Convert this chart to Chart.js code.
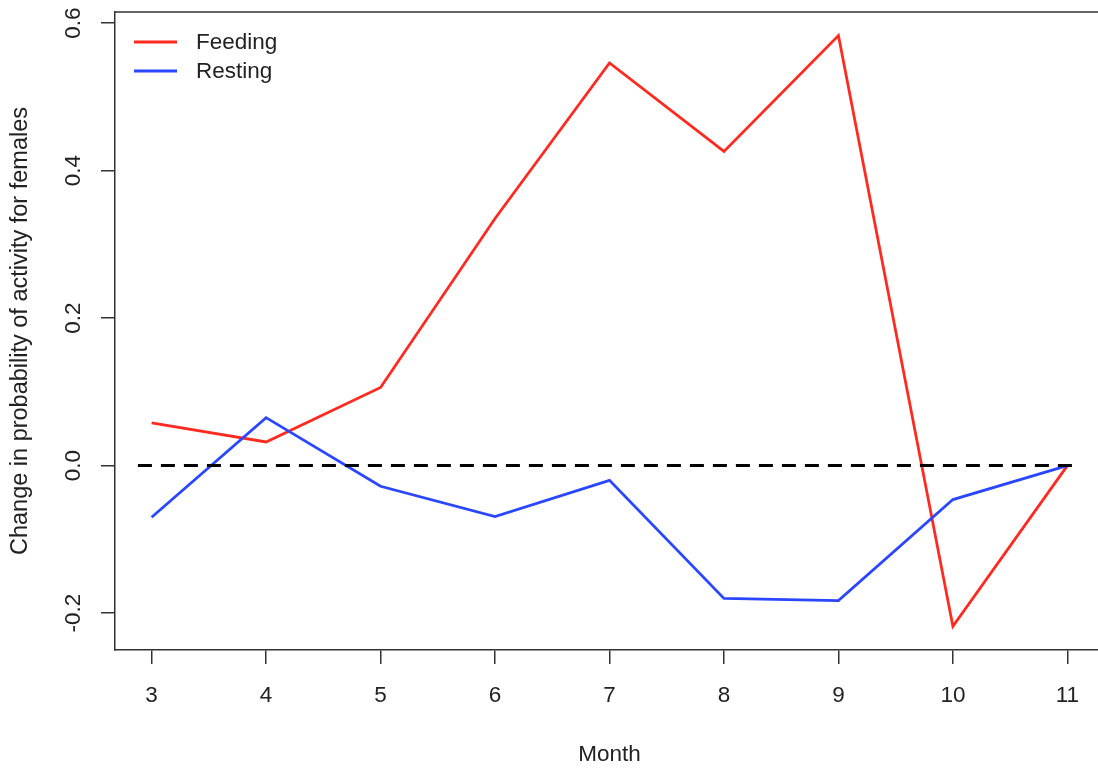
<!DOCTYPE html>
<html>
<head>
<meta charset="utf-8">
<script src="https://cdn.jsdelivr.net/npm/chart.js@4.4.1/dist/chart.umd.min.js"></script>
<style>
  html, body { margin: 0; padding: 0; background: #fff; overflow: hidden; }
  #wrap { width: 1110px; height: 768px; }
</style>
</head>
<body>
<div id="wrap"><canvas id="c" width="1110" height="768"></canvas></div>
<script>
// ---- data ----
const months = [3, 4, 5, 6, 7, 8, 9, 10, 11];
const feeding = [0.058, 0.032, 0.106, 0.335, 0.546, 0.426, 0.583, -0.218, 0.0];
const resting = [-0.070, 0.065, -0.028, -0.069, -0.020, -0.180, -0.183, -0.046, 0.0];
const refX = [2.88, 11.04];
const refY = [0, 0];
const yTicks = [-0.2, 0.0, 0.2, 0.4, 0.6];
const yTickLabels = ['-0.2', '0.0', '0.2', '0.4', '0.6'];
const seriesNames = ['Feeding', 'Resting'];
const xTitle = 'Month';
const yTitle = 'Change in probability of activity for females';

const RED = '#ff2a1f';
const BLUE = '#2a46ff';
const FONT = "'Liberation Sans', Arial, sans-serif";

const toPts = (xs, ys) => xs.map((x, i) => ({ x: x, y: ys[i] }));

const decor = {
  id: 'decor',
  afterDraw(chart) {
    const ctx = chart.ctx;
    const a = chart.chartArea;
    const ys = chart.scales.y;
    ctx.save();
    // top border of box
    ctx.strokeStyle = '#333';
    ctx.lineWidth = 1.5;
    ctx.beginPath();
    ctx.moveTo(a.left, a.top);
    ctx.lineTo(a.right, a.top);
    ctx.stroke();
    // rotated y tick labels
    ctx.fillStyle = '#222';
    ctx.font = '22.5px ' + FONT;
    ctx.textAlign = 'center';
    ctx.textBaseline = 'middle';
    yTicks.forEach((v, i) => {
      const py = ys.getPixelForValue(v);
      ctx.save();
      ctx.translate(74, py);
      ctx.rotate(-Math.PI / 2);
      ctx.fillText(yTickLabels[i], 0, 0);
      ctx.restore();
    });
    // legend
    const cols = [RED, BLUE];
    ctx.font = '22.5px ' + FONT;
    ctx.textAlign = 'left';
    seriesNames.forEach((n, i) => {
      const ly = 42 + i * 29;
      ctx.strokeStyle = cols[i];
      ctx.lineWidth = 2.8;
      ctx.beginPath();
      ctx.moveTo(134, ly);
      ctx.lineTo(177, ly);
      ctx.stroke();
      ctx.fillStyle = '#222';
      ctx.fillText(n, 196, ly + 1);
    });
    ctx.restore();
  }
};

new Chart(document.getElementById('c'), {
  type: 'scatter',
  data: {
    datasets: [
      { label: 'zero', data: toPts(refX, refY), showLine: true, borderColor: '#000', borderWidth: 3,
        borderDash: [14, 9], pointRadius: 0, order: 0 },
      { label: seriesNames[1], data: toPts(months, resting), showLine: true, borderColor: BLUE,
        borderWidth: 2.8, pointRadius: 0, order: 1, tension: 0 },
      { label: seriesNames[0], data: toPts(months, feeding), showLine: true, borderColor: RED,
        borderWidth: 2.8, pointRadius: 0, order: 2, tension: 0 }
    ]
  },
  options: {
    responsive: false,
    animation: false,
    events: [],
    layout: { padding: { top: 12, right: 6, left: 0, bottom: 0 } },
    plugins: { legend: { display: false }, tooltip: { enabled: false } },
    scales: {
      x: {
        type: 'linear',
        min: 2.68, max: 11.32,
        afterBuildTicks: s => { s.ticks = months.map(v => ({ value: v })); },
        afterFit: s => { s.height = 118; },
        ticks: { color: '#222', font: { family: FONT, size: 22.5 }, padding: 18, maxRotation: 0,
                 callback: v => String(v) },
        grid: { display: true, drawOnChartArea: false, drawTicks: true, tickLength: 14, color: '#333', lineWidth: 1.5 },
        border: { display: true, color: '#333', width: 1.5 },
        title: { display: true, text: xTitle, color: '#222', font: { family: FONT, size: 22.5 },
                 padding: { top: 0, bottom: 0 } }
      },
      y: {
        type: 'linear',
        min: -0.25, max: 0.615,
        afterBuildTicks: s => { s.ticks = yTicks.map(v => ({ value: v })); },
        afterFit: s => { s.width = 115; },
        ticks: { color: 'rgba(0,0,0,0)', font: { family: FONT, size: 1 }, padding: 0 },
        grid: { display: true, drawOnChartArea: false, drawTicks: true, tickLength: 14, color: '#333', lineWidth: 1.5 },
        border: { display: true, color: '#333', width: 1.5 },
        title: { display: true, text: yTitle, color: '#222', font: { family: FONT, size: 23.5 },
                 padding: { top: 6, bottom: 0 } }
      }
    }
  },
  plugins: [decor]
});
</script>
</body>
</html>
